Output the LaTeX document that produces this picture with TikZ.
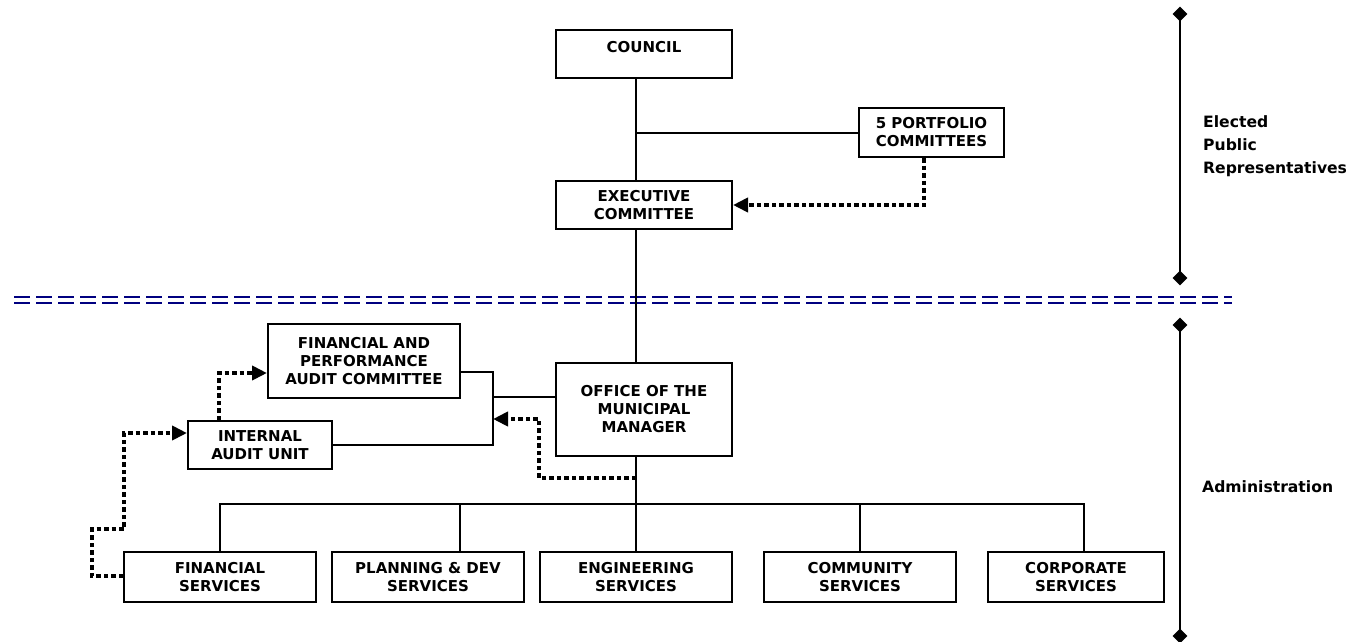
\documentclass[tikz,border=0pt]{standalone}
\usepackage{fontspec}
\setmainfont{DejaVu Sans}
\usetikzlibrary{arrows.meta,shapes.geometric}
\definecolor{sepblue}{RGB}{0,0,128}
\begin{document}
\begin{tikzpicture}[x=1pt,y=-1pt,
  box/.style={draw, line width=2pt, inner sep=0pt, align=center,
    font=\bfseries\fontsize{15}{18}\selectfont},
  conn/.style={line width=2pt},
  dotarrow/.style={line width=4pt, dash pattern=on 4.5pt off 3pt,
    -{Triangle[length=15pt,width=14pt]}},
  sepline/.style={sepblue, line width=2.5pt, dash pattern=on 15.5pt off 6.5pt},
  axisline/.style={line width=2.5pt},
  diam/.style={diamond, fill, inner sep=0pt, minimum width=15pt, minimum height=15pt},
  side/.style={font=\bfseries\fontsize{15.6}{22.8}\selectfont, align=left,
    anchor=west, inner sep=0pt}]
\useasboundingbox (0,0) rectangle (1365,641);
\fill[white] (0,0) rectangle (1365,641);

% boxes
\node[box, minimum width=176pt, minimum height=48pt, text depth=14pt] (council) at (644,54) {COUNCIL};
\node[box, minimum width=145pt, minimum height=49pt] (port) at (931.5,132.5) {5 PORTFOLIO\\COMMITTEES};
\node[box, minimum width=176pt, minimum height=48pt] (exec) at (644,205) {EXECUTIVE\\COMMITTEE};
\node[box, minimum width=176pt, minimum height=93pt] (office) at (644,409.5) {OFFICE OF THE\\MUNICIPAL\\MANAGER};
\node[box, minimum width=192pt, minimum height=74pt] (fpac) at (364,361) {FINANCIAL AND\\PERFORMANCE\\AUDIT COMMITTEE};
\node[box, minimum width=144pt, minimum height=48pt] (iau) at (260,445) {INTERNAL\\AUDIT UNIT};
\node[box, minimum width=192pt, minimum height=50pt] (fin) at (220,577) {FINANCIAL\\SERVICES};
\node[box, minimum width=192pt, minimum height=50pt] (plan) at (428,577) {PLANNING \& DEV\\SERVICES};
\node[box, minimum width=192pt, minimum height=50pt] (eng) at (636,577) {ENGINEERING\\SERVICES};
\node[box, minimum width=192pt, minimum height=50pt] (comm) at (860,577) {COMMUNITY\\SERVICES};
\node[box, minimum width=176pt, minimum height=50pt] (corp) at (1076,577) {CORPORATE\\SERVICES};

% separator
\coordinate (sL1) at (14,297); \coordinate (sR1) at (1232,297);
\coordinate (sL2) at (14,303); \coordinate (sR2) at (1232,303);
\draw[sepline] (sL1) -- (sR1);
\draw[sepline] (sL2) -- (sR2);

% trunk
\draw[conn] (council.south -| eng.north) -- (exec.north -| eng.north);
\draw[conn] (exec.south -| eng.north) -- (office.north -| eng.north);
\draw[conn] (office.south -| eng.north) -- (eng.north);
\draw[conn] (port.west) -- (port.west -| eng.north);

% bus to services
\coordinate (planx) at (460,504);
\coordinate (corpx) at (1084,504);
\draw[conn] (fin.north) -- (fin.north |- planx) -- (corpx) -- (corpx |- corp.north);
\draw[conn] (planx) -- (planx |- plan.north);
\draw[conn] (comm.north) -- (comm.north |- planx);

% audit bracket
\coordinate (bt) at (493,372);
\coordinate (brk) at (493,397);
\coordinate (bb) at (493,445);
\draw[conn] (fpac.east |- bt) -- (bt) -- (bb) -- (iau.east |- bb);
\draw[conn] (office.west |- brk) -- (brk);

% dotted arrows
\coordinate (pd) at (924,205);
\draw[dotarrow] (port.south -| pd) -- (pd) -- (exec.east);
\coordinate (od1) at (539,478);
\coordinate (od2) at (539,419);
\draw[dotarrow] (od1 -| eng.north) -- (od1) -- (od2) -- (od2 -| brk);
\coordinate (ia) at (219,373);
\draw[dotarrow] (iau.north -| ia) -- (ia) -- (ia -| fpac.west);
\coordinate (f1) at (92,576);
\coordinate (f2) at (92,529);
\coordinate (f3) at (124,529);
\coordinate (f4) at (124,433);
\draw[dotarrow] (fin.west |- f1) -- (f1) -- (f2) -- (f3) -- (f4) -- (f4 -| iau.west);

% right axis
\coordinate (a1) at (1180,14);
\coordinate (a2) at (1180,278);
\coordinate (a3) at (1180,325);
\coordinate (a4) at (1180,636);
\draw[axisline] (a1) -- (a2);
\draw[axisline] (a3) -- (a4);
\node[diam] (d1) at (a1) {};
\node[diam] (d2) at (a2) {};
\node[diam] (d3) at (a3) {};
\node[diam] (d4) at (a4) {};

\node[side] (elected) at (1203,146) {Elected\\Public\\Representatives};
\node[side] (admin) at (1202,487) {Administration};
\end{tikzpicture}
\end{document}
